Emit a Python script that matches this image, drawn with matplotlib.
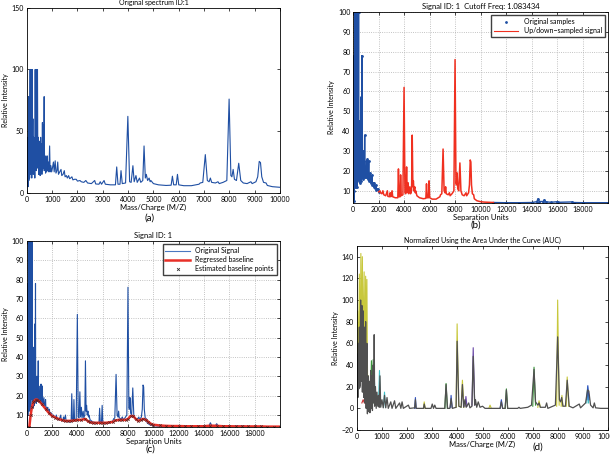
#!/usr/bin/env python3
# -*- coding: utf-8 -*-
"""
Four panel figure: raw spectrum, resampling, baseline, AUC normalisation
"""
#%% Import packages
import numpy as np
import matplotlib
matplotlib.use('Agg')
import matplotlib.pyplot as plt
from matplotlib.lines import Line2D

plt.rcParams['font.family'] = ['Lato', 'DejaVu Sans']
plt.rcParams['font.size'] = 5

#%% Data
# spectrum vertices (mass/charge, relative intensity)
spec_mz = [0, 10, 20, 35, 50, 66, 80, 95, 110, 130, 140, 150, 165, 180, 195, 210, 225, 240,
           255, 270, 285, 300, 315, 330, 345, 360, 375, 390, 405, 420, 435, 450, 465, 480,
           495, 510, 525, 545, 560, 580, 595, 615, 630, 645, 660, 684, 700, 720, 740, 760,
           780, 800, 820, 850, 870, 900, 920, 950, 980, 1010, 1050, 1080, 1120, 1150, 1190,
           1220, 1250, 1300, 1350, 1380, 1430, 1480, 1510, 1560, 1600, 1650, 1690, 1730,
           1780, 1820, 1880, 1950, 2000, 2100, 2150, 2250, 2330, 2400, 2550, 2680, 2720,
           2850, 2900, 2950, 3050, 3100, 3300, 3500, 3550, 3600, 3680, 3720, 3770, 3900,
           3990, 4060, 4120, 4190, 4240, 4310, 4360, 4450, 4500, 4580, 4630, 4680, 4720,
           4770, 4830, 4870, 4900, 5000, 5200, 5500, 5700, 5750, 5800, 5900, 5950, 6000,
           6200, 6500, 6800, 6850, 6950, 7050, 7130, 7200, 7250, 7300, 7450, 7550, 7600,
           7750, 7800, 7900, 7990, 8060, 8100, 8150, 8200, 8280, 8370, 8450, 8550, 8700,
           8850, 8900, 9050, 9120, 9180, 9230, 9280, 9350, 9450, 9500, 9700, 10000]
spec_int = [2, 45, 8, 40, 5, 78, 10, 50, 12, 100, 15, 100, 20, 100, 12, 100, 25, 60,
            15, 45, 20, 40, 12, 100, 22, 100, 18, 100, 25, 100, 20, 45, 15, 42,
            18, 35, 14, 45, 16, 40, 15, 57, 18, 55, 20, 78, 18, 30, 16, 28,
            17, 30, 18, 25, 17, 38, 17, 22, 17, 20, 25, 17, 26, 16, 18,
            25, 15, 17, 19, 14, 15, 18, 13, 14, 12, 14, 11.5, 12,
            13, 10.5, 11, 11, 9.5, 10, 9, 8.5, 10, 8, 7.5, 10, 7.2,
            7, 9, 7, 10, 7, 6.5, 6.5, 21, 7, 7, 18, 7.5, 8,
            62, 9, 8.5, 22, 9, 14, 8.5, 12, 8.5, 10, 38, 12, 15,
            10, 12, 9, 10, 7.5, 6.5, 6, 6.2, 13.5, 6.5, 6.5, 15, 6.5,
            5.8, 5.8, 7, 8, 8.5, 31, 10, 9, 12, 8.5, 8, 9, 7.5,
            8.5, 9, 10, 76, 14, 13, 19, 11, 10, 24, 10, 8, 7.5,
            9, 7.5, 9, 13, 25.5, 24.5, 13, 8.5, 8, 6, 5, 4.5]

# tail of the signal in separation units (panels b and c)
tail_x = [10300, 11000, 12000, 13000, 14000, 14400, 14500, 14600, 14900, 15000, 15100,
          15500, 16000, 16100, 17200, 17300, 18000, 20000]
tail_y = [4.3, 4.1, 4.0, 4.0, 4.1, 4.5, 6.0, 4.6, 4.6, 5.5, 4.5,
          4.2, 4.5, 4.2, 4.4, 4.1, 4.0, 4.0]

# regressed baseline / estimated baseline points (panel c)
base_x = [200, 300, 400, 500, 600, 700, 800, 1000, 1200, 1500, 1750, 2000, 2250, 2500,
          2750, 3000, 3250, 3500, 3750, 4000, 4300, 4600, 4800, 5000, 5250, 5500, 5750,
          6000, 6250, 6500, 6800, 7000, 7250, 7500, 7800, 8000, 8200, 8400, 8600, 8800,
          9000, 9200, 9400, 9600, 9800, 10000, 10500, 11000, 11500, 12000, 12500, 13000,
          13500, 14000, 14500, 15000, 15500, 16000, 16500, 17000, 17500, 18000, 18500,
          19000, 19500, 20000]
base_y = [3.9, 10, 14, 16.5, 17.5, 18, 18, 17, 15.5, 13, 11, 9.5, 8.7, 8,
          7.5, 7, 7, 7, 7.2, 7.5, 7.5, 8, 7, 6.2, 6, 6, 6,
          6, 6, 6.2, 6.5, 7.2, 7.5, 7.5, 7.5, 8, 9.5, 9.5, 8, 7,
          7.5, 8, 7.5, 6.5, 5.5, 5, 4.6, 4.4, 4.3, 4.3, 4.2, 4.2,
          4.2, 4.2, 4.5, 4.4, 4.2, 4.2, 4.1, 4.1, 4.1, 4.1, 4.1,
          4.0, 4.0, 4.0]

# normalised spectra (panel d): grey top trace and coloured traces showing through
grey_mz = [0, 20, 40, 60, 80, 100, 120, 150, 170, 200, 220, 250, 270, 300, 320, 350, 370,
           400, 420, 450, 470, 500, 520, 550, 570, 600, 620, 650, 670, 690, 710, 740, 770,
           800, 830, 860, 890, 920, 950, 1000, 1050, 1100, 1150, 1200, 1250, 1350, 1400,
           1500, 1550, 1700, 1750, 1800, 1850, 2050, 2100, 2300, 2330, 2360, 2650, 2680,
           2720, 2950, 3000, 3050, 3100, 3150, 3500, 3550, 3610, 3700, 3750, 3800, 3950,
           3990, 4060, 4150, 4200, 4250, 4300, 4350, 4450, 4500, 4580, 4630, 4690, 4720,
           4770, 4830, 4900, 5000, 5100, 5700, 5750, 5800, 5900, 5950, 6000, 6400, 6450,
           6500, 6800, 6950, 7050, 7110, 7200, 7250, 7300, 7500, 7550, 7600, 7800, 7900,
           7990, 8060, 8100, 8150, 8200, 8300, 8370, 8450, 8600, 8850, 8900, 9100, 9180,
           9230, 9300, 9400, 9450, 9500, 9700, 10000]
grey_int = [15, 50, 10, 60, 18, 75, 20, 100, 25, 95, 15, 90, 10, 75, 5, 80, 0,
            60, -5, 30, -3, 25, -4, 35, 0, 30, -2, 40, 5, 68, 2, 20, 0,
            15, 2, 12, 1, 30, 1, 8, 0.5, 12, 0.5, 10, 0, 6, 0,
            7, 0, 5, 0, 6, 0, 3, 0, 0.5, 8, 0, 0, 4,
            0, 0, 4, 0, 3, 0, 0, 22, 0, 0, 9, 0, 1,
            62, 2, 1, 22, 1, 8, 1, 5, 0.5, 2, 48, 3, 8,
            1, 6, 1, 2, 0, 0, 6, 0, 0, 17, 0, 0, 1,
            0, 1, 3, 36, 6, 3, 5, 1, 1, 5, 0, 2, 3,
            66, 8, 6, 10, 2, 2, 26, 2, 0.5, 4, 0.5, 5, 17,
            16, 3, 0.5, 5, 0.5, 0, 0]

nan = np.nan
yellow_mz = [0, 30, 60, 100, 130, 160, 190, 220, 250, 290, 320, 350, 380, 400, 430, 460, 490,
             nan, 2650, 2680, 2720, nan, 3950, 3990, 4050, nan, 4150, 4200, 4260,
             nan, 5250, 5300, 5350, nan, 7200, 7250, 7300, nan, 7950, 7990, 8050,
             nan, 8130, 8160, 8200, nan, 8330, 8370, 8430]
yellow_int = [20, 90, 30, 124, 40, 143, 60, 140, 50, 126, 30, 122, 25, 119, 10, 30, 0,
              nan, 0, 6, 0, nan, 1, 78, 2, nan, 1, 26, 1,
              nan, 0, 3, 0, nan, 1, 7, 1, nan, 2, 100, 3,
              nan, 2, 12, 2, nan, 2, 29, 2]
green_mz = [540, 580, 620, 650, 680, nan, 3500, 3550, 3600, nan, 5900, 5950, 6000,
            nan, 7000, 7050, 7110]
green_int = [5, 44, 10, 45, 5, nan, 0, 23, 0, nan, 0, 18, 0, nan, 2, 38, 3]
cyan_mz = [660, 700, 740, nan, 860, 900, 940, nan, 1060, 1100, 1140, nan, 9150, 9180, 9220]
cyan_int = [8, 25, 5, nan, 2, 35, 2, nan, 1, 15, 1, nan, 5, 20, 5]
blue_mz = [2300, 2330, 2360, nan, 3720, 3750, 3790, nan, 5700, 5750, 5800, nan, 9150, 9190, 9240]
blue_int = [0, 10, 0, nan, 1, 12, 1, nan, 0, 8, 0, nan, 8, 21, 8]
purple_mz = [4300, 4340, 4380, nan, 4580, 4630, 4690]
purple_int = [2, 11, 2, nan, 3, 56, 3]
red_mz = [200, 250, 300]
red_int = [5, 8, 5]

#%% Helpers
blue = '#1f4fa3'
sx = np.array(spec_mz + tail_x, dtype=float)
sy = np.array(spec_int + tail_y, dtype=float)


def style_axes(ax, grid=False):
    ax.tick_params(direction='in', length=2, width=0.5, pad=2, labelsize=5,
                   top=True, right=True)
    for s in ax.spines.values():
        s.set_linewidth(0.6)
    if grid:
        ax.grid(True, linestyle=':', color='#b0b0b0', linewidth=0.6)


fig = plt.figure(figsize=[6.1, 4.57], dpi=100)

#%% (a) original spectrum
ax = fig.add_axes([0.044, 0.578, 0.415, 0.405])
ax.plot(spec_mz, spec_int, color=blue, lw=0.8)
ax.set_xlim(0, 10000)
ax.set_ylim(0, 150)
ax.set_xticks(np.arange(0, 10001, 1000))
ax.set_yticks([0, 50, 100, 150])
ax.set_title('Original spectrum ID:1', fontsize=5, pad=2)
ax.set_xlabel('Mass/Charge (M/Z)', fontsize=5.5, labelpad=1)
ax.set_ylabel('Relative Intensity', fontsize=5, labelpad=2)
style_axes(ax)
fig.text(0.245, 0.518, '(a)', ha='center', fontsize=7)

#%% (b) resampling
ax = fig.add_axes([0.579, 0.556, 0.418, 0.418])
lo = sx <= 2000
hi = sx >= 11000
ax.plot(sx[lo], sy[lo], '.-', color=blue, ms=2, lw=1.0)
ax.plot(sx[hi], sy[hi], '.-', color=blue, ms=2, lw=1.0)
m = (sx >= 2000) & (sx <= 11000)
ax.plot(sx[m], sy[m], color='#f03020', lw=1.1)
ax.set_xlim(0, 20000)
ax.set_ylim(3.9, 100)
ax.set_xticks(np.arange(0, 18001, 2000))
ax.set_yticks(np.arange(10, 101, 10))
ax.set_title('Signal ID: 1  Cutoff Freq: 1.083434', fontsize=5.5, pad=2)
ax.set_xlabel('Separation Units', fontsize=5.5, labelpad=1)
ax.set_ylabel('Relative Intensity', fontsize=5, labelpad=2)
style_axes(ax, grid=True)
hb = [Line2D([], [], ls='none', marker='.', ms=2, color=blue),
      Line2D([], [], color='#f03020', lw=0.8)]
ax.legend(hb, ['Original samples', 'Up/down\u2212sampled signal'], loc='upper right',
          fontsize=5, fancybox=False, edgecolor='#404040', framealpha=1,
          borderpad=0.4, handlelength=3.5, labelspacing=0.3)
fig.text(0.78, 0.503, '(b)', ha='center', fontsize=7)

#%% (c) baseline
ax = fig.add_axes([0.044, 0.066, 0.415, 0.407])
ax.plot(sx, sy, color=blue, lw=0.8)
ax.plot(base_x, base_y, color='#e83028', lw=1.8)
ax.plot(base_x, base_y, ls='none', marker='x', ms=1.8, mew=0.5, color='#602020')
ax.set_xlim(0, 20000)
ax.set_ylim(3.9, 100)
ax.set_xticks(np.arange(0, 18001, 2000))
ax.set_yticks(np.arange(10, 101, 10))
ax.set_title('Signal ID: 1', fontsize=5.5, pad=2)
ax.set_xlabel('Separation Units', fontsize=5.5, labelpad=1)
ax.set_ylabel('Relative Intensity', fontsize=5, labelpad=2)
style_axes(ax, grid=True)
hc = [Line2D([], [], color='#4a78c0', lw=0.8),
      Line2D([], [], color='#e83028', lw=1.8),
      Line2D([], [], ls='none', marker='x', ms=2, mew=0.6, color='#303030')]
ax.legend(hc, ['Original Signal', 'Regressed baseline', 'Estimated baseline points'],
          loc='upper right', fontsize=5, fancybox=False, edgecolor='#404040',
          framealpha=1, borderpad=0.4, handlelength=3.5, labelspacing=0.3)
fig.text(0.247, 0.012, '(c)', ha='center', fontsize=7)

#%% (d) AUC normalised spectra
ax = fig.add_axes([0.585, 0.059, 0.412, 0.403])
ax.plot(yellow_mz, yellow_int, color='#c8c83c', lw=0.8)
ax.plot(green_mz, green_int, color='#3c963c', lw=0.8)
ax.plot(cyan_mz, cyan_int, color='#40c0c8', lw=0.8)
ax.plot(blue_mz, blue_int, color='#3050c0', lw=0.8)
ax.plot(purple_mz, purple_int, color='#6a48a8', lw=0.8)
ax.plot(red_mz, red_int, color='#c83030', lw=0.8)
ax.plot(grey_mz, grey_int, color='#505050', lw=0.9)
ax.set_xlim(0, 10000)
ax.set_ylim(-20, 150)
ax.set_xticks(np.arange(0, 10001, 1000))
ax.set_yticks(np.arange(-20, 141, 20))
ax.set_title('Normalized Using the Area Under the Curve (AUC)', fontsize=5, pad=2)
ax.set_xlabel('Mass/Charge (M/Z)', fontsize=5.5, labelpad=1)
ax.set_ylabel('Relative Intensity', fontsize=5, labelpad=2)
style_axes(ax)
fig.text(0.882, 0.016, '(d)', ha='center', fontsize=7)

fig.savefig('out.png', dpi=100)
